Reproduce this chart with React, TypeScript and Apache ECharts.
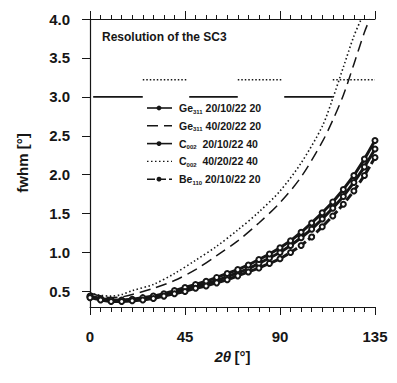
import React, { useEffect, useRef } from "react";
import * as echarts from "echarts";

// 2θ positions (degrees) for the marker series
const bandAngles = [0, 5, 10, 15, 20, 25, 30, 35, 40, 45, 50, 55, 60, 65, 70, 75, 80, 85, 90, 95, 100, 105, 110, 115, 120, 125, 130, 135];
// fwhm values (degrees)
const ge311NarrowFwhm = [0.43, 0.40, 0.38, 0.38, 0.39, 0.40, 0.42, 0.45, 0.49, 0.52, 0.56, 0.60, 0.64, 0.69, 0.74, 0.79, 0.86, 0.93, 1.00, 1.09, 1.19, 1.30, 1.43, 1.57, 1.72, 1.90, 2.10, 2.33];
const c002NarrowFwhm = [0.44, 0.41, 0.39, 0.39, 0.40, 0.42, 0.44, 0.47, 0.51, 0.55, 0.59, 0.63, 0.68, 0.73, 0.78, 0.84, 0.91, 0.98, 1.06, 1.15, 1.26, 1.38, 1.51, 1.65, 1.81, 1.99, 2.20, 2.44];
const be110NarrowFwhm = [0.42, 0.39, 0.37, 0.37, 0.38, 0.39, 0.41, 0.44, 0.47, 0.50, 0.54, 0.57, 0.61, 0.65, 0.70, 0.75, 0.80, 0.86, 0.92, 1.00, 1.09, 1.20, 1.33, 1.47, 1.62, 1.79, 1.99, 2.22];

const ge311WideAngles = [0, 5, 10, 15, 20, 30, 40, 50, 60, 70, 80, 90, 100, 110, 115, 120, 125, 130, 132.5];
const ge311WideFwhm = [0.48, 0.44, 0.42, 0.43, 0.46, 0.54, 0.64, 0.78, 0.96, 1.15, 1.38, 1.64, 1.97, 2.42, 2.70, 3.02, 3.42, 3.83, 4.0];

const c002WideAngles = [0, 5, 10, 15, 20, 30, 40, 50, 60, 70, 80, 90, 100, 110, 115, 120, 125, 128.5];
const c002WideFwhm = [0.48, 0.45, 0.44, 0.46, 0.51, 0.59, 0.73, 0.90, 1.08, 1.29, 1.52, 1.79, 2.15, 2.62, 2.98, 3.38, 3.78, 4.0];

// stray horizontal segments seen in the original figure
const refSolidLevel = 3.0;
const refSolidSegments = [[1.5, 25], [47, 70], [92, 115]];
const refDottedLevel = 3.22;
const refDottedSegments = [[25, 46], [70, 91], [115, 135]];

const seriesNames = [
  "Ge311 20/10/22 20",
  "Ge311 40/20/22 20",
  "C002 20/10/22 40",
  "C002 40/20/22 40",
  "Be110 20/10/22 20",
];
const legendRich = [
  "{n|Ge}{s|311}{n| 20/10/22 20}",
  "{n|Ge}{s|311}{n| 40/20/22 20}",
  "{n|C}{s|002}{n|  20/10/22 40}",
  "{n|C}{s|002}{n|  40/20/22 40}",
  "{n|Be}{s|110}{n| 20/10/22 20}",
];

const xTicks = [0, 45, 90, 135];
const yMin = 0.3;
const yMax = 4.0;

const FONT = "'Liberation Sans', Arial, sans-serif";
const INK = "#161616";

// line dash patterns of the five series (null = solid)
const seriesDash: (number[] | null)[] = [null, [11, 6], null, [1.5, 2.5], [8, 3]];
const seriesHasMarkers = [true, false, true, false, true];

function zip(xs: number[], ys: number[]) {
  return xs.map((x, i) => [x, ys[i]]);
}
function segmentsData(segs: number[][], level: number) {
  const out: any[] = [];
  segs.forEach((s, i) => {
    if (i > 0) out.push([s[0], "-"]);
    out.push([s[0], level]);
    out.push([s[1], level]);
  });
  return out;
}

export default function App() {
  const ref = useRef<HTMLDivElement>(null);
  useEffect(() => {
    if (!ref.current) return;
    const chart = echarts.init(ref.current, undefined, { renderer: "svg" });
    const markerSeries = (name: string, data: number[][], lineType: any, z: number) => ({
      name,
      type: "line",
      data,
      symbol: "emptyCircle",
      symbolSize: 5,
      showSymbol: true,
      z,
      itemStyle: { color: INK, borderColor: INK, borderWidth: 1.7 },
      lineStyle: { color: INK, width: 3, type: lineType },
    });

    const legendItems: any[] = [];
    seriesNames.forEach((name, i) => {
      const y = 108 + i * 17.8;
      const dash = seriesDash[i];
      legendItems.push({
        type: "line",
        shape: { x1: 147, y1: y, x2: 172, y2: y },
        style: { stroke: INK, lineWidth: dash && dash[0] < 3 ? 1.3 : 1.6, lineDash: dash || undefined },
      });
      if (seriesHasMarkers[i]) {
        legendItems.push({ type: "circle", shape: { cx: 159, cy: y, r: 2.4 }, style: { fill: INK } });
      }
      legendItems.push({
        type: "text",
        x: 179,
        y,
        style: {
          text: legendRich[i],
          verticalAlign: "middle",
          rich: {
            n: { fontFamily: FONT, fontSize: 10.5, fontWeight: "bold", fill: INK },
            s: { fontFamily: FONT, fontSize: 6, fontWeight: "bold", fill: INK, padding: [7, 0, 0, 0] },
          },
        },
      });
    });

    chart.setOption({
      animation: false,
      textStyle: { fontFamily: FONT },
      grid: { left: 90, top: 19, right: 22, bottom: 76 },
      graphic: [
        {
          type: "text",
          left: 102,
          top: 31,
          style: { text: "Resolution of the SC3", fontFamily: FONT, fontSize: 12, fontWeight: "bold", fill: INK },
        },
        ...legendItems,
      ],
      xAxis: [
        {
          type: "value",
          min: 0,
          max: 135,
          interval: 45,
          position: "bottom",
          name: "{t|2θ} {n|[°]}",
          nameLocation: "middle",
          nameGap: 42,
          nameTextStyle: {
            rich: {
              t: { fontFamily: FONT, fontSize: 15, fontWeight: "bold", fontStyle: "italic", color: INK },
              n: { fontFamily: FONT, fontSize: 15, fontWeight: "bold", color: INK },
            },
          },
          axisLine: { lineStyle: { color: INK, width: 1 } },
          axisTick: { inside: false, length: 8, lineStyle: { color: INK } },
          minorTick: { show: true, splitNumber: 9, length: 5, lineStyle: { color: INK } },
          axisLabel: {
            margin: 22,
            fontSize: 15,
            fontWeight: "bold",
            color: INK,
            formatter: (v: number) => (xTicks.includes(v) ? String(v) : ""),
          },
          splitLine: { show: false },
        },
        {
          type: "value",
          min: 0,
          max: 135,
          interval: 45,
          position: "top",
          axisLine: { lineStyle: { color: INK, width: 1 } },
          axisTick: { inside: false, length: 8, lineStyle: { color: INK } },
          minorTick: { show: true, splitNumber: 9, length: 4, lineStyle: { color: INK } },
          axisLabel: { show: false },
          splitLine: { show: false },
        },
      ],
      yAxis: [
        {
          type: "value",
          min: yMin,
          max: yMax,
          splitNumber: 7,
          position: "left",
          name: "fwhm [°]",
          nameLocation: "middle",
          nameGap: 60,
          nameTextStyle: { fontFamily: FONT, fontSize: 15, fontWeight: "bold", color: INK },
          axisLine: { show: true, lineStyle: { color: INK, width: 1 } },
          axisTick: { show: true, inside: false, length: 8, lineStyle: { color: INK } },
          axisLabel: {
            margin: 20,
            fontSize: 15,
            fontWeight: "bold",
            color: INK,
            showMinLabel: false,
            formatter: (v: number) => v.toFixed(1),
          },
          splitLine: { show: false },
        },
        {
          type: "value",
          min: yMin,
          max: yMax,
          position: "right",
          offset: 3,
          axisLine: { show: true, lineStyle: { color: INK, width: 1.2 } },
          axisTick: { show: false },
          axisLabel: { show: false },
          splitLine: { show: false },
        },
      ],
      series: [
        {
          name: "refSolid",
          type: "line",
          data: segmentsData(refSolidSegments, refSolidLevel),
          symbol: "none",
          connectNulls: false,
          silent: true,
          lineStyle: { color: INK, width: 1.6 },
        },
        {
          name: "refDotted",
          type: "line",
          data: segmentsData(refDottedSegments, refDottedLevel),
          symbol: "none",
          connectNulls: false,
          silent: true,
          lineStyle: { color: INK, width: 1.6, type: [1.5, 2] },
        },
        markerSeries(seriesNames[0], zip(bandAngles, ge311NarrowFwhm), "solid", 3),
        {
          name: seriesNames[1],
          type: "line",
          data: zip(ge311WideAngles, ge311WideFwhm),
          symbol: "none",
          smooth: 0.3,
          lineStyle: { color: INK, width: 1.5, type: seriesDash[1] },
        },
        markerSeries(seriesNames[2], zip(bandAngles, c002NarrowFwhm), "solid", 3),
        {
          name: seriesNames[3],
          type: "line",
          data: zip(c002WideAngles, c002WideFwhm),
          symbol: "none",
          smooth: 0.3,
          lineStyle: { color: INK, width: 1.6, type: seriesDash[3] },
        },
        markerSeries(seriesNames[4], zip(bandAngles, be110NarrowFwhm), seriesDash[4], 3),
      ],
    });
    return () => chart.dispose();
  }, []);
  return (
    <div
      ref={ref}
      style={{ position: "fixed", left: 0, top: 0, width: 397, height: 383, background: "#fff" }}
    />
  );
}
